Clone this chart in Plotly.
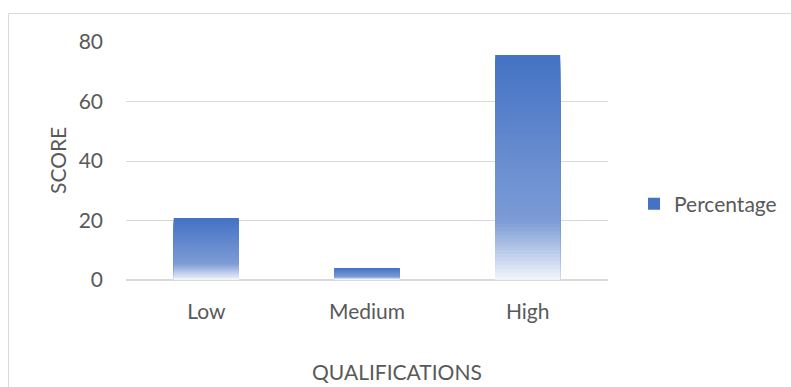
import plotly.graph_objects as go

categories = ["Low", "Medium", "High"]
values = [20.8, 4.0, 75.6]
series_name = "Percentage"
y_ticks = [0, 20, 40, 60, 80]

# gradient stops (fraction of bar height from bottom -> rgb)
stops = [(0.0, (243, 246, 252)), (0.26, (125, 156, 214)), (1.0, (68, 114, 196))]


def grad(f):
    for (f0, c0), (f1, c1) in zip(stops[:-1], stops[1:]):
        if f <= f1:
            t = (f - f0) / (f1 - f0)
            return "rgb(%d,%d,%d)" % tuple(round(a + (b - a) * t) for a, b in zip(c0, c1))
    return "rgb(%d,%d,%d)" % stops[-1][1]


FONT = "Lato"
FS = 21
TXT = "#595959"
GRID = "#d9d9d9"
N = 60

fig = go.Figure()
for k in range(N, 0, -1):
    f = k / N
    fig.add_trace(go.Bar(
        x=categories,
        y=[v * f for v in values],
        marker=dict(color=grad(f - 0.5 / N), line=dict(width=0)),
        name=series_name,
        showlegend=(k == N),
        hoverinfo="skip",
    ))

L, R, T, B = 126, 183, 42, 107
W, H = 791, 387
pw, ph = W - L - R, H - T - B


def px(x):
    return (x - L) / pw


def py(y):
    return (H - B - y) / ph


fig.update_layout(
    width=W, height=H,
    margin=dict(l=L, r=R, t=T, b=B, pad=0, autoexpand=False),
    paper_bgcolor="white", plot_bgcolor="white",
    barmode="overlay", bargap=0.595,
    font=dict(family=FONT, size=FS, color=TXT),
    showlegend=True,
    legend=dict(x=px(634), y=py(204), xanchor="left", yanchor="middle",
                font=dict(family=FONT, size=FS, color=TXT),
                bgcolor="rgba(0,0,0,0)", itemsizing="constant"),
    xaxis=dict(showgrid=False, showline=False, zeroline=False, ticks="",
               ticklabelstandoff=17, tickfont=dict(size=FS, color=TXT)),
    yaxis=dict(range=[0, 80], tickvals=y_ticks, showgrid=True, gridcolor=GRID,
               gridwidth=1, zeroline=True, zerolinecolor=GRID, zerolinewidth=2,
               showline=False, ticks="", ticklabelstandoff=22,
               tickfont=dict(size=FS, color=TXT)),
    annotations=[
        dict(text="SCORE", xref="paper", yref="paper", x=px(57), y=py(161),
             textangle=-90, showarrow=False, xanchor="center", yanchor="middle",
             font=dict(size=FS, color=TXT)),
        dict(text="QUALIFICATIONS", xref="paper", yref="paper", x=px(396.5), y=py(371),
             showarrow=False, xanchor="center", yanchor="middle",
             font=dict(size=FS, color=TXT)),
    ],
    shapes=[
        dict(type="rect", xref="paper", yref="paper",
             x0=px(8.5), x1=px(820), y0=py(13.5), y1=py(420),
             line=dict(color=GRID, width=1), fillcolor="rgba(0,0,0,0)", layer="below"),
    ],
)

fig.write_html("out.html")
